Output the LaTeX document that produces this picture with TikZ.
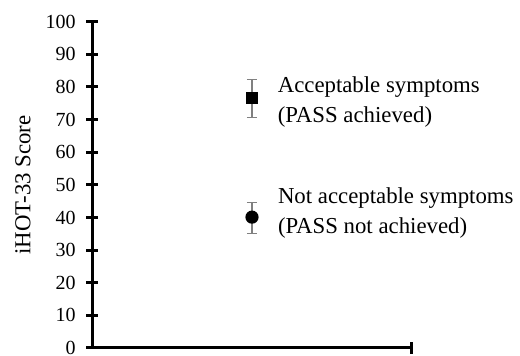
\documentclass[tikz,border=0pt]{standalone}
\usepackage{fontspec}
\setmainfont{Liberation Serif}
\usetikzlibrary{positioning}

\begin{document}
\begin{tikzpicture}[x=0.5pt,y=0.5pt]
    \useasboundingbox (0,0) rectangle (520,356);
    \begin{scope}[shift={(92,8)}, y=1.6315pt,
        axis/.style={line width=1.5pt},
        bar/.style={gray, line width=0.6pt},
        ticklbl/.style={anchor=east, inner sep=0pt, font=\fontsize{10}{12}\selectfont},
        lbl/.style={inner sep=0pt, align=left, font=\fontsize{11.4}{15}\selectfont},
        sqmark/.style={rectangle, fill=black, minimum size=6pt, inner sep=0pt},
        dotmark/.style={circle, fill=black, minimum size=6.6pt, inner sep=0pt}]
    \def\errbar#1#2#3#4{
        \coordinate (#4lo) at (#1,#2);
        \coordinate (#4hi) at (#1,#3);
        \draw[bar] (#4lo) -- (#4hi);
        \draw[bar] ([xshift=-2.6pt]#4lo) -- ([xshift=2.6pt]#4lo);
        \draw[bar] ([xshift=-2.6pt]#4hi) -- ([xshift=2.6pt]#4hi);
    }

    % Axes
    \coordinate (origin) at (0,0);
    \coordinate (ytop) at (0,100);
    \coordinate (xend) at (319,0);
    \draw[axis] (ytop) -- (origin) -- (xend);
    \draw[axis] ([yshift=-3pt]xend) -- ([yshift=3pt]xend);
    \foreach \y in {0,10,...,100} {
        \draw[axis] ([xshift=-3pt]0,\y) -- ([xshift=3pt]0,\y);
        \node[ticklbl] at ([xshift=-8pt]0,\y) {\y};
    }
    \node[lbl, rotate=90] (ylbl) at ([xshift=-34.5pt]0,50) {iHOT-33 Score};

    % PASS achieved
    \errbar{160}{70.7}{82.3}{pass}
    \node[sqmark] (pass) at (160,76.5) {};
    \node[lbl, right=9.5pt of pass, yshift=-1.6pt] (passlbl) {Acceptable symptoms\\(PASS achieved)};

    % PASS not achieved
    \errbar{160}{35.2}{44.6}{nopass}
    \node[dotmark] (nopass) at (160,40.1) {};
    \node[lbl, right=9.3pt of nopass, yshift=2pt] (nopasslbl) {Not acceptable symptoms\\(PASS not achieved)};
    \end{scope}
\end{tikzpicture}
\end{document}
